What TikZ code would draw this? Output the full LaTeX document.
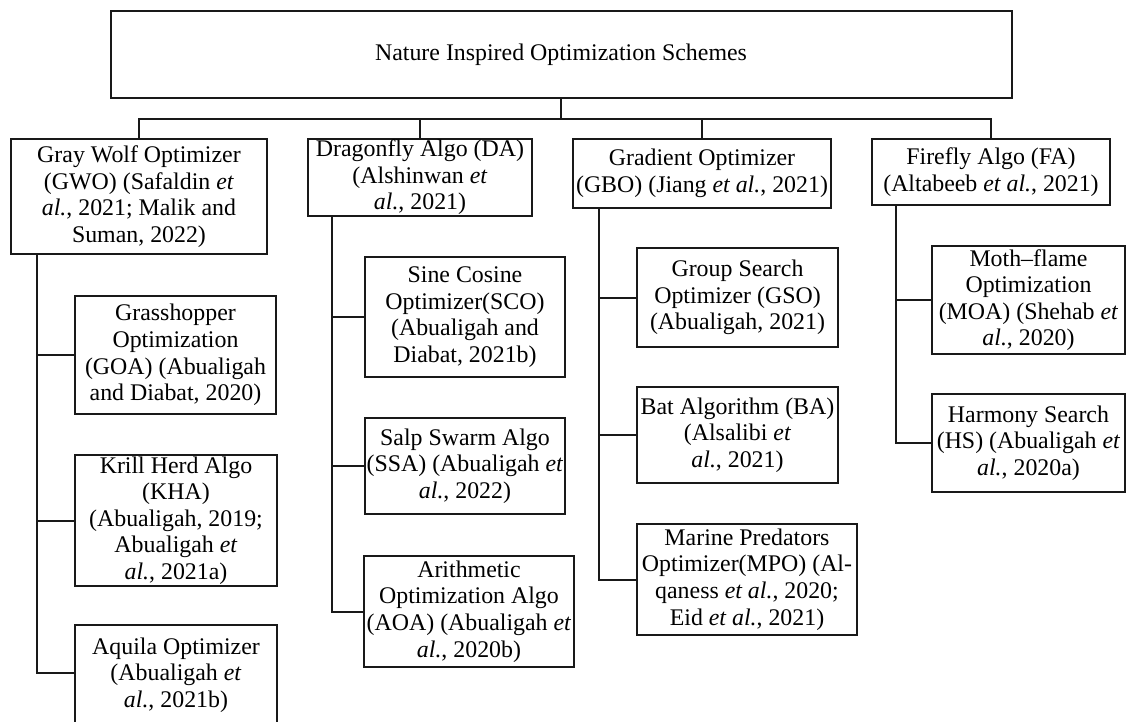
\documentclass[tikz,border=0pt]{standalone}
\usepackage{fontspec}
\setmainfont{Liberation Serif}
\begin{document}
\begin{tikzpicture}[x=0.75pt,y=-0.75pt]
\tikzset{
  box/.style={draw=black!90, line width=1.5pt, rectangle, inner sep=0pt, align=center,
    font=\fontsize{17.9}{19.9}\selectfont},
  sz/.style 2 args={minimum width=#1*0.75pt, minimum height=#2*0.75pt},
  link/.style={draw=black!90, line width=1.5pt}
}
\useasboundingbox (0,0) rectangle (1127,721);

\node[box, sz={901}{87}] (top) at (561,54.5) {Nature Inspired Optimization Schemes};

\node[box, sz={256}{115}] (gwo) at (139,196.5) {Gray Wolf Optimizer\\(GWO) (Safaldin \textit{et}\\\textit{al.}, 2021; Malik and\\Suman, 2022)};
\node[box, sz={224}{77}] (da) at (420,177.5) {Dragonfly Algo (DA)\\(Alshinwan \textit{et}\\\textit{al.}, 2021)};
\node[box, sz={258}{69}] (gbo) at (702,173.5) {Gradient Optimizer\\(GBO) (Jiang \textit{et al.}, 2021)};
\node[box, sz={238}{66}] (fa) at (991,172) {Firefly Algo (FA)\\(Altabeeb \textit{et al.}, 2021)};

\node[box, sz={201}{118}] (goa) at (175.5,355) {Grasshopper\\Optimization\\(GOA) (Abualigah\\and Diabat, 2020)};
\node[box, sz={202}{131}] (kha) at (176,520.5) {Krill Herd Algo\\(KHA)\\(Abualigah, 2019;\\Abualigah \textit{et}\\\textit{al.}, 2021a)};
\node[box, sz={202}{100}] (aq) at (176,675) {Aquila Optimizer\\(Abualigah \textit{et}\\\textit{al.}, 2021b)};

\node[box, sz={200}{120}] (sco) at (465,317) {Sine Cosine\\Optimizer(SCO)\\(Abualigah and\\Diabat, 2021b)};
\node[box, sz={200}{96}] (ssa) at (465,466) {Salp Swarm Algo\\(SSA) (Abualigah \textit{et}\\\textit{al.}, 2022)};
\node[box, sz={210}{111}] (aoa) at (469,611.5) {Arithmetic\\Optimization Algo\\(AOA) (Abualigah \textit{et}\\\textit{al.}, 2020b)};

\node[box, sz={201}{99}] (gso) at (737.5,297.5) {Group Search\\Optimizer (GSO)\\(Abualigah, 2021)};
\node[box, sz={201}{96}] (ba) at (737.5,435) {Bat Algorithm (BA)\\(Alsalibi \textit{et}\\\textit{al.}, 2021)};
\node[box, sz={220}{111}] (mpo) at (747,579.5) {Marine Predators\\Optimizer(MPO) (Al-\\qaness \textit{et al.}, 2020;\\Eid \textit{et al.}, 2021)};

\node[box, sz={193}{108}] (moa) at (1028.5,300) {Moth–flame\\Optimization\\(MOA) (Shehab \textit{et}\\\textit{al.}, 2020)};
\node[box, sz={193}{98}] (hs) at (1028.5,443) {Harmony Search\\(HS) (Abualigah \textit{et}\\\textit{al.}, 2020a)};

% bus
\coordinate (bus) at (561,119);
\draw[link] (top.south) -- (top.south |- bus);
\draw[link] (gwo.north) |- (bus) -| (fa.north);
\draw[link] (da.north) -- (da.north |- bus);
\draw[link] (gbo.north) -- (gbo.north |- bus);

% stems
\coordinate (s1) at (37,0);
\coordinate (s2) at (332,0);
\coordinate (s3) at (599,0);
\coordinate (s4) at (896,0);

\draw[link] (gwo.south -| s1) |- (aq.west |- 0,673);
\draw[link] (goa.west) -- (goa.west -| s1);
\draw[link] (kha.west) -- (kha.west -| s1);

\draw[link] (da.south -| s2) |- (aoa.west);
\draw[link] (sco.west) -- (sco.west -| s2);
\draw[link] (ssa.west) -- (ssa.west -| s2);

\draw[link] (gbo.south -| s3) |- (mpo.west);
\draw[link] (gso.west) -- (gso.west -| s3);
\draw[link] (ba.west) -- (ba.west -| s3);

\draw[link] (fa.south -| s4) |- (hs.west);
\draw[link] (moa.west) -- (moa.west -| s4);
\end{tikzpicture}
\end{document}
